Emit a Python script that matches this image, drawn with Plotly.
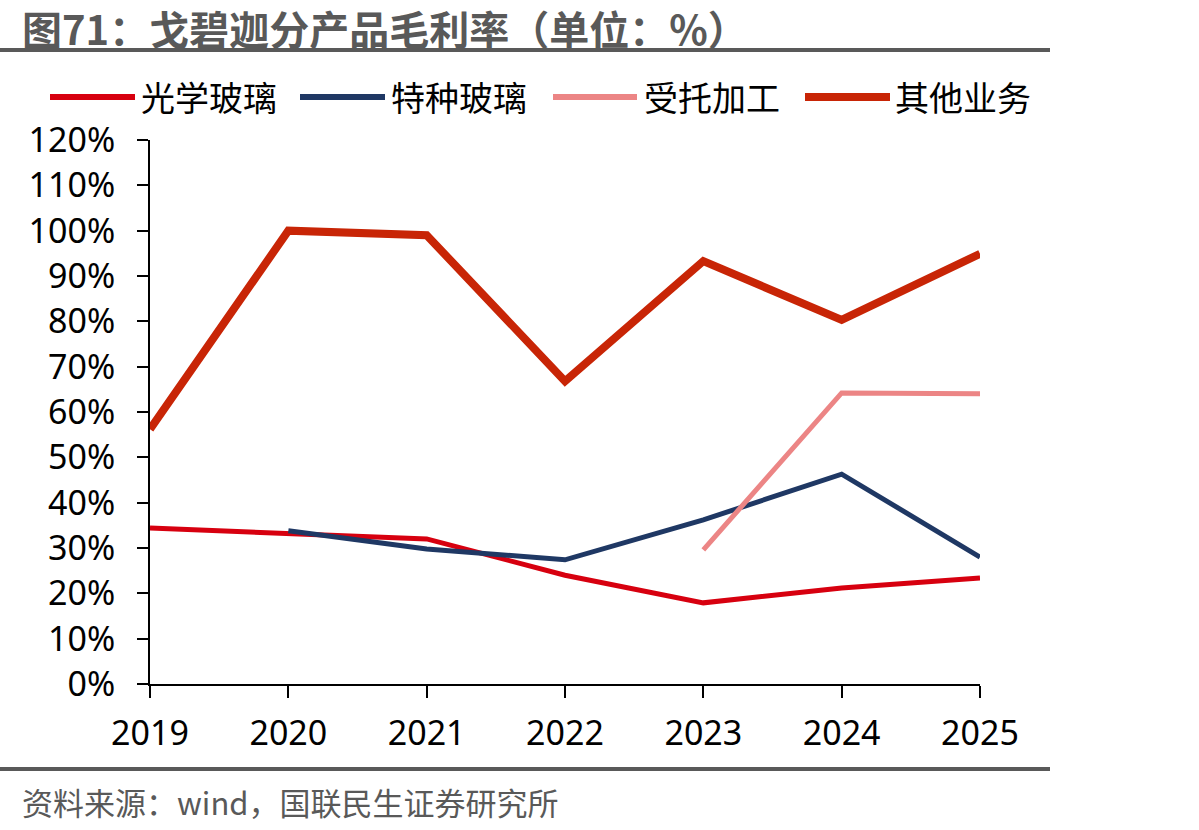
import plotly.graph_objects as go

years = [2019, 2020, 2021, 2022, 2023, 2024, 2025]
optical_glass = [34.4, 33.3, 32.0, 24.0, 17.9, 21.2, 23.4]
special_glass = [None, 33.8, 29.8, 27.4, 36.2, 46.3, 28.0]
contract_processing = [None, None, None, None, 29.6, 64.2, 64.0]
other_business = [56.2, 100.0, 99.0, 66.8, 93.3, 80.3, 94.9]

series_names = ["光学玻璃", "特种玻璃", "受托加工", "其他业务"]
series_values = [optical_glass, special_glass, contract_processing, other_business]
series_colors = ["#D7000F", "#1F3864", "#EC8585", "#C82506"]
series_widths = [5, 5, 5, 8]

y_ticks = list(range(0, 121, 10))

W, H = 1199, 830
L, R, T, B = 150, 980, 140, 684
CJK = "Noto Sans CJK SC"


def px_x(px):
    return (px - L) / (R - L)


def px_y(py):
    return (B - py) / (B - T)


fig = go.Figure()
for name, vals, col, w in zip(series_names, series_values, series_colors, series_widths):
    fig.add_trace(go.Scatter(
        x=years, y=vals, mode="lines", name=name,
        line=dict(color=col, width=w), connectgaps=False,
        showlegend=False, hoverinfo="skip",
    ))

shapes = []
annotations = []

# title & separators
shapes.append(dict(type="line", xref="paper", yref="paper",
                   x0=px_x(0), x1=px_x(1050), y0=px_y(50), y1=px_y(50),
                   line=dict(color="#595959", width=4)))
shapes.append(dict(type="line", xref="paper", yref="paper",
                   x0=px_x(0), x1=px_x(1050), y0=px_y(769), y1=px_y(769),
                   line=dict(color="#595959", width=4)))
annotations.append(dict(xref="paper", yref="paper", x=px_x(20), y=px_y(27.5),
                        xanchor="left", yanchor="middle", showarrow=False,
                        text="<b>图71：戈碧迦分产品毛利率（单位：%）</b>",
                        font=dict(family=CJK, size=40, color="#595959")))
annotations.append(dict(xref="paper", yref="paper", x=px_x(20), y=px_y(801),
                        xanchor="left", yanchor="middle", showarrow=False,
                        text="资料来源：wind，国联民生证券研究所",
                        font=dict(family=CJK, size=31, color="#595959")))

# legend (manual)
leg_lines = [(50, 135), (300, 385), (553, 637), (805, 890)]
leg_text_x = [139, 389, 642, 893]
for (a, b), tx, name, col, w in zip(leg_lines, leg_text_x, series_names, series_colors, series_widths):
    shapes.append(dict(type="line", xref="paper", yref="paper",
                       x0=px_x(a), x1=px_x(b), y0=px_y(97), y1=px_y(97),
                       line=dict(color=col, width=6 if w < 8 else 8)))
    annotations.append(dict(xref="paper", yref="paper", x=px_x(tx), y=px_y(97),
                            xanchor="left", yanchor="middle", showarrow=False,
                            text=name, font=dict(family=CJK, size=34, color="#000000")))

fig.update_layout(
    width=W, height=H,
    margin=dict(l=L, r=W - R, t=T, b=H - B, pad=0),
    paper_bgcolor="white", plot_bgcolor="white",
    shapes=shapes, annotations=annotations,
    showlegend=False,
    xaxis=dict(
        range=[2019, 2025], tickvals=years, ticktext=[str(y) for y in years],
        showgrid=False, zeroline=False, showline=True, linecolor="#000000", linewidth=2,
        ticks="outside", ticklen=12, tickwidth=2, tickcolor="#000000",
        tickfont=dict(family="Noto Sans", size=34, color="#000000"),
        ticklabelstandoff=6, automargin=False, fixedrange=True,
    ),
    yaxis=dict(
        range=[0, 120], tickvals=y_ticks, ticktext=[f"{v}%" for v in y_ticks],
        showgrid=False, zeroline=False, showline=True, linecolor="#000000", linewidth=2,
        ticks="outside", ticklen=11, tickwidth=2, tickcolor="#000000",
        tickfont=dict(family="Noto Sans", size=34, color="#000000"),
        ticklabelstandoff=15, automargin=False, fixedrange=True,
    ),
)

fig.write_html("out.html", config=dict(displayModeBar=False))
